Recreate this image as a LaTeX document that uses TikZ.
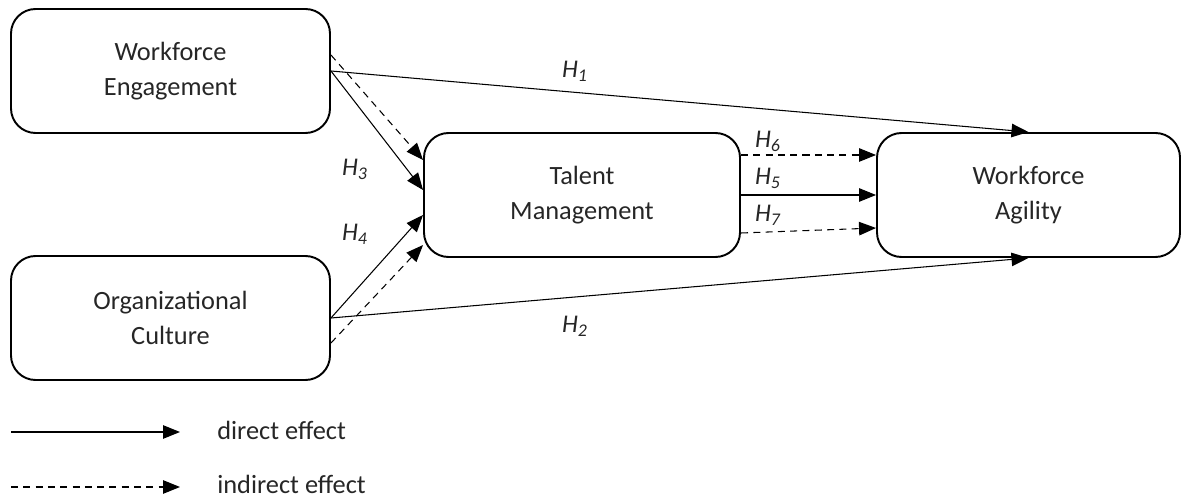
\documentclass[tikz,border=0pt]{standalone}
\usepackage{fontspec}
\setmainfont{Carlito}
\usepackage{xcolor}
\usetikzlibrary{
  arrows.meta,
  positioning
}
\definecolor{inkgray}{HTML}{262626}

\begin{document}
\begin{tikzpicture}[
    every node/.style={text=inkgray},
    construct/.style={
      rectangle, draw, rounded corners=14pt,
      minimum height=2.48cm, line width=1.1pt,
      align=center, font=\fontsize{15}{19.5}\selectfont
    },
    direct/.style={-{Triangle[length=0.34cm, width=0.27cm]}, line width=0.6pt},
    indirect/.style={-{Triangle[length=0.34cm, width=0.27cm]}, line width=0.6pt, dash pattern=on 4pt off 3pt},
    hyp/.style={font=\fontsize{14.5}{17}\selectfont\itshape},
    legendtxt/.style={font=\fontsize{15}{17}\selectfont, anchor=west, inner sep=0pt},
  ]

  \useasboundingbox (0,0) rectangle (23.82,-9.94);

  % --- Constructs ---
  \node[construct, minimum width=6.38cm] (engage) at (3.41,-1.42)
    {Workforce\\Engagement};
  \node[construct, minimum width=6.38cm] (culture) at (3.41,-6.36)
    {Organizational\\Culture};
  \node[construct, minimum width=6.32cm] (talent) at (11.64,-3.9)
    {Talent\\Management};
  \node[construct, minimum width=6.06cm] (agility) at (20.57,-3.9)
    {Workforce\\Agility};

  % --- Direct paths ---
  \draw[direct] (engage.east) -- (agility.north);
  \draw[direct] (culture.east) -- (agility.south);
  \draw[direct] (engage.east) -- ([yshift=0.1cm]talent.west);
  \draw[direct] (culture.east) -- ([yshift=-0.4cm]talent.west);
  \draw[direct] (talent.east) -- (agility.west);

  % --- Indirect paths ---
  \draw[indirect] ([yshift=0.32cm]engage.east) -- ([yshift=0.7cm]talent.west);
  \draw[indirect] ([yshift=-0.5cm]culture.east) -- ([yshift=-1.0cm]talent.west);
  \draw[indirect] ([yshift=0.8cm]talent.east) -- ([yshift=0.8cm]agility.west);
  \draw[indirect] ([yshift=-0.76cm]talent.east) -- ([yshift=-0.66cm]agility.west);

  % --- Hypothesis labels ---
  \node[hyp] (h1) at (11.5,-1.42) {H\textsubscript{1}};
  \node[hyp] (h2) at (11.5,-6.52) {H\textsubscript{2}};
  \node[hyp] (h3) at (7.1,-3.38) {H\textsubscript{3}};
  \node[hyp] (h4) at (7.1,-4.68) {H\textsubscript{4}};
  \node[hyp] (h6) at (15.36,-2.82) {H\textsubscript{6}};
  \node[hyp] (h5) at (15.36,-3.56) {H\textsubscript{5}};
  \node[hyp] (h7) at (15.36,-4.30) {H\textsubscript{7}};

  % --- Legend ---
  \coordinate (dstart) at (0.22,-8.64);
  \coordinate (dend) at (3.6,-8.64);
  \coordinate (istart) at (0.22,-9.74);
  \coordinate (iend) at (3.6,-9.74);
  \draw[direct] (dstart) -- (dend);
  \draw[indirect] (istart) -- (iend);
  \node[legendtxt, right=0.74cm of dend, yshift=0.03cm] (dlabel) {direct effect};
  \node[legendtxt, right=0.74cm of iend, yshift=0.06cm] (ilabel) {indirect effect};

\end{tikzpicture}
\end{document}
